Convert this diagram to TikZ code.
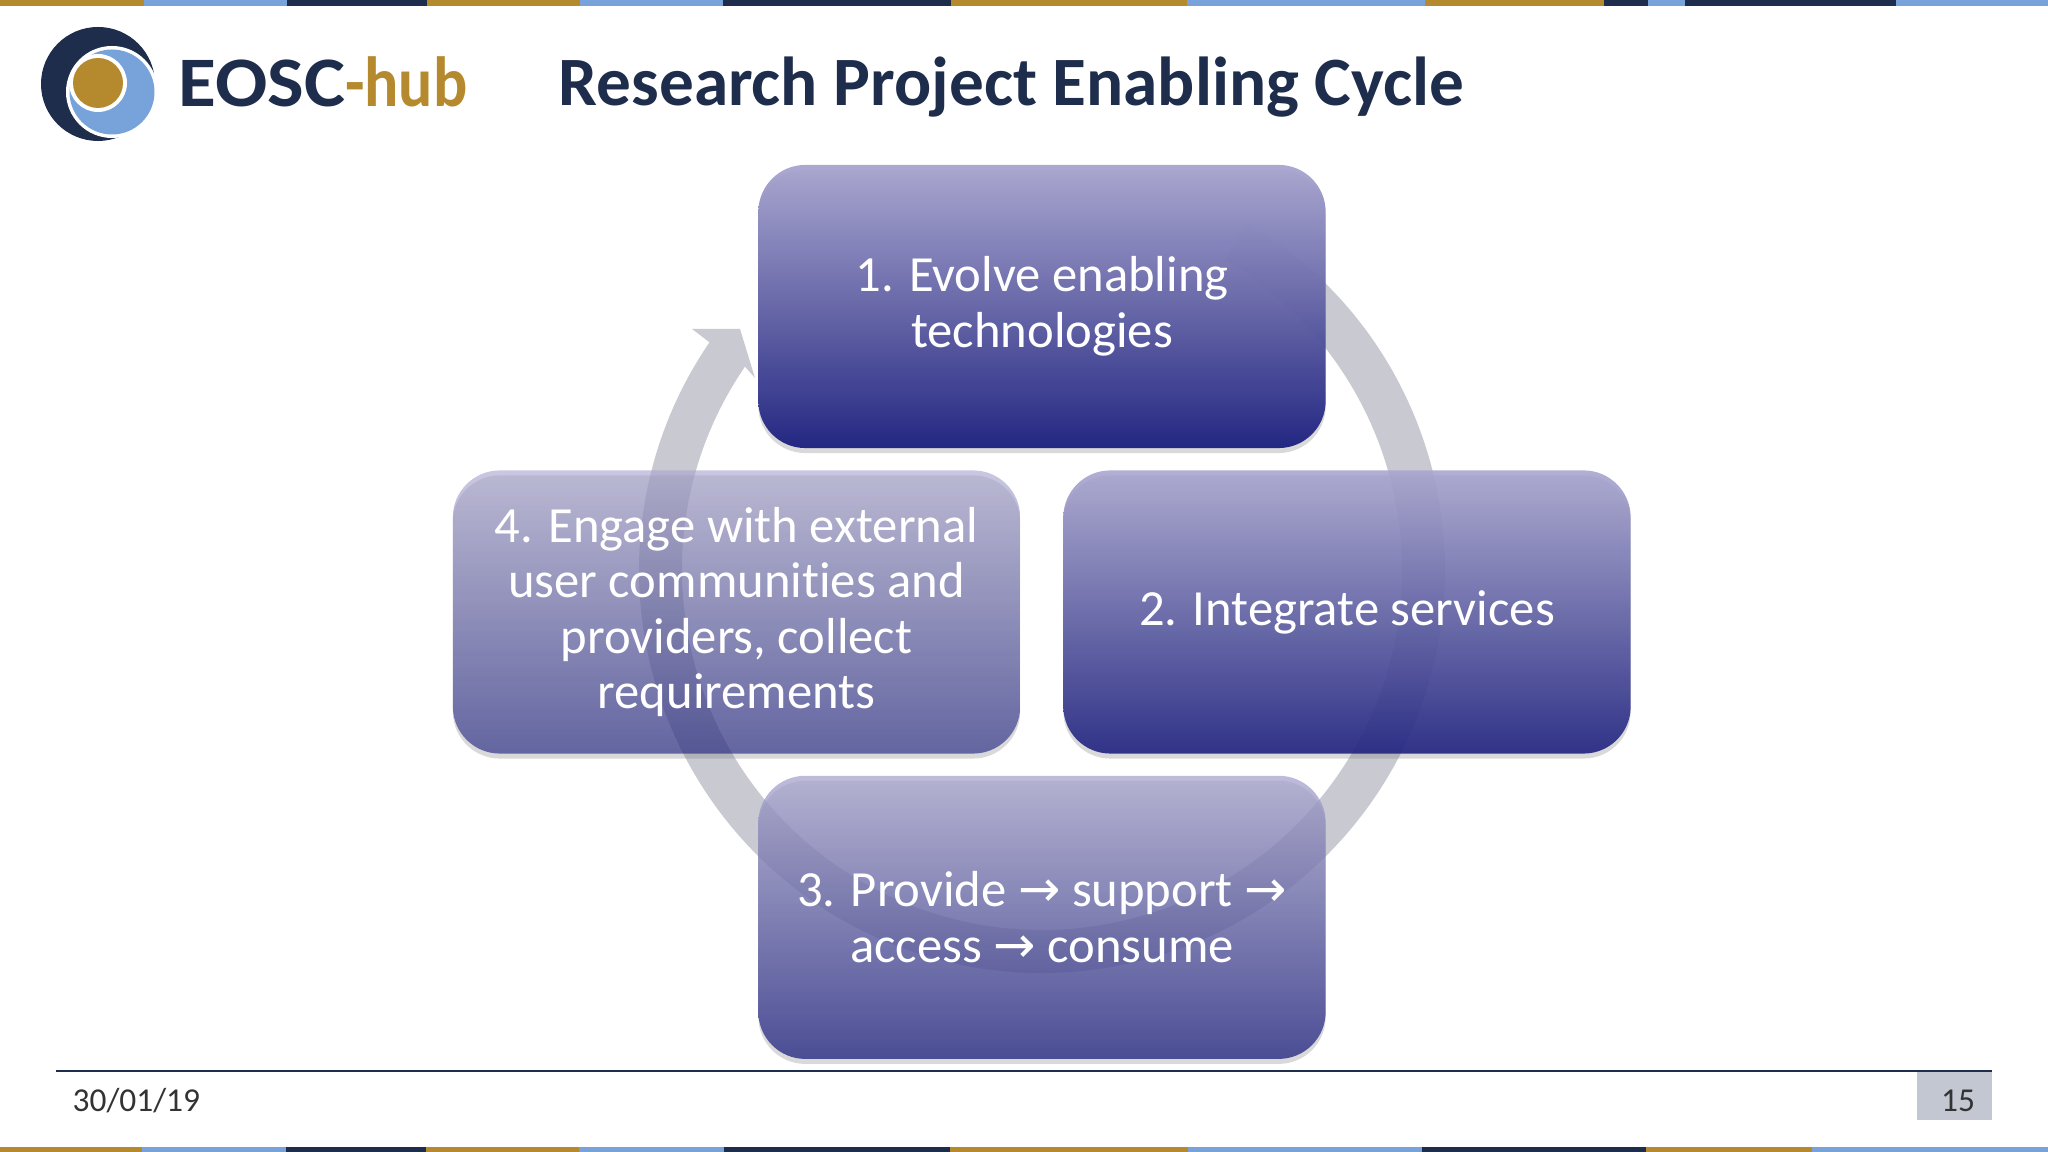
\documentclass[tikz,border=0pt]{standalone}
\usepackage{fontspec}
\setmainfont[Ligatures=NoCommon]{Carlito}
\newfontfamily\arrowfont{DejaVu Sans}
\usetikzlibrary{calc,shadows}
\definecolor{barGold}{HTML}{B58A2E}
\definecolor{barBlue}{HTML}{78A3DA}
\definecolor{barNavy}{HTML}{1E2D4C}
\definecolor{boxTop}{HTML}{A9A6CF}
\definecolor{boxBottom}{HTML}{1F2280}
\definecolor{pageTag}{HTML}{C3C7D2}
\definecolor{arrowGrey}{HTML}{C9C9D2}
\newcommand{\flowto}{{\arrowfont\char"2192}}
\tikzset{
    stagebox/.style={rounded corners=0.47cm, minimum width=5.67cm, minimum height=2.83cm, inner sep=0pt,
        shade, top color=boxTop, bottom color=boxBottom, text=white, align=center, text opacity=1,
        font=\fontsize{14.4}{15.8}\selectfont,
        drop shadow={shadow xshift=0pt, shadow yshift=-0.05cm, opacity=0.3}},
    cyclearrow/.style={fill=arrowGrey},
    footertext/.style={text=black!80, font=\fontsize{9.5}{11}\selectfont, inner sep=0pt}
}
\begin{document}
\begin{tikzpicture}[x=0.01cm, y=0.01cm, node distance=6.105cm]
    \useasboundingbox (0,0) rectangle (2048,1152);

    % Top and bottom bars
    \foreach \xa/\xb/\barcol in {0/144/barGold, 144/287/barBlue, 287/427/barNavy, 427/580/barGold, 580/723/barBlue,
        723/951/barNavy, 951/1187/barGold, 1187/1425/barBlue, 1425/1604/barGold, 1604/1648/barNavy,
        1648/1685/barBlue, 1685/1896/barNavy, 1896/2048/barBlue}
        \fill[\barcol] (\xa,1145.5) rectangle (\xb,1152);
    \foreach \xa/\xb/\barcol in {0/142/barGold, 142/286/barBlue, 286/426/barNavy, 426/579/barGold, 579/724/barBlue,
        724/950/barNavy, 950/1188/barGold, 1188/1422/barBlue, 1422/1646/barNavy, 1646/1812/barGold, 1812/2048/barBlue}
        \fill[\barcol] (\xa,0) rectangle (\xb,5);

    % Logo
    \fill[barNavy] (98,1068) circle (57);
    \fill[white] (112,1060) circle (46);
    \fill[barBlue] (112,1060) circle (42.5);
    \fill[white] (98,1069) circle (29);
    \fill[barGold] (98,1069) circle (25);
    \node[anchor=base west, inner sep=0pt, font=\fontsize{20.2}{22}\selectfont\bfseries, text=barNavy] (logotext) at (178,1045)
        {{\addfontfeature{FakeStretch=1.09}EOSC}\textcolor{barGold}{{\addfontfeature{FakeStretch=0.9}-hub}}};

    % Title
    \node[anchor=base west, inner sep=0pt, font=\fontsize{19.7}{23}\selectfont\bfseries, text=barNavy] (title) at (558,1046)
        {Research Project Enabling Cycle};

    % Cycle arrow behind the boxes
    \coordinate (hub) at (1042,582);
    \coordinate (notch) at ($(hub)+(-214.4:360)$);
    \fill[cyclearrow] (hub) ++(59.5:403) arc[start angle=59.5, end angle=-214.4, radius=403]
        -- (692,823) -- (740,823) -- (755,774) -- (notch)
        arc[start angle=-214.4, end angle=59.5, radius=360] -- cycle;

    % Stage boxes
    \node[stagebox, fill opacity=0.97] (evolve) at (1042,845.5) {1. Evolve enabling\\technologies};
    \node[stagebox, fill opacity=0.76] (provide) [below of=evolve] {3. Provide \flowto{} support \flowto\\access \flowto{} consume};
    \node[stagebox, fill opacity=0.9] (integrate) at (1347,540) {2. Integrate services};
    \node[stagebox, fill opacity=0.63] (engage) at (736.5,540) {4. Engage with external\\user communities and\\providers, collect\\requirements};

    % Footer
    \fill[pageTag] (1917,32) rectangle (1992,81);
    \coordinate (footleft) at (56,81);
    \coordinate (footright) at (1992,81);
    \draw[barNavy, line width=0.7pt] (footleft) -- (footright);
    \node[footertext, anchor=west] (datelabel) at (72,51) {30/01/19};
    \node[footertext] (pagelabel) at (1958,51) {15};
\end{tikzpicture}
\end{document}
